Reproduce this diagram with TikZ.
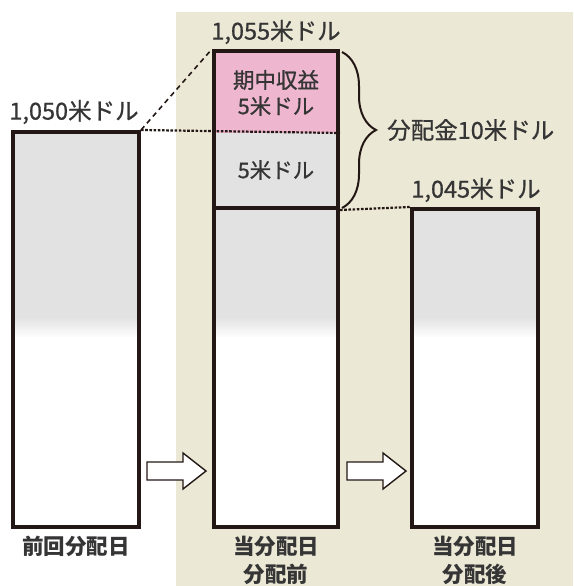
\documentclass[tikz,border=0pt]{standalone}
\usepackage{fontspec}
\setmainfont{Noto Sans CJK JP}
\newfontfamily\jpmed{Noto Sans CJK JP}[FakeBold=0.8]
\usetikzlibrary{decorations.pathreplacing}
\definecolor{beige}{HTML}{ECE8D6}
\definecolor{boxgray}{HTML}{E2E2E2}
\definecolor{pinkfill}{HTML}{EFB7CF}
\definecolor{frame}{HTML}{231815}
\definecolor{txt}{HTML}{353535}
\begin{document}
\begin{tikzpicture}[x=1pt,y=-1pt,
  barbox/.style={draw=frame, line width=4pt, inner sep=0pt, minimum width=125pt},
  lbl/.style={text=txt, font=\jpmed\fontsize{23.5}{26}\selectfont, inner sep=0pt},
  inlbl/.style={text=txt, font=\jpmed\fontsize{21.5}{24}\selectfont, inner sep=0pt},
  caption/.style={text=txt, font=\fontsize{21.5}{28}\selectfont\bfseries, inner sep=0pt, align=center},
  dotline/.style={draw=frame, line width=2.2pt, dash pattern=on 2.6pt off 1.6pt},
  dashline/.style={draw=frame, line width=1.6pt, dash pattern=on 5pt off 4pt},
  blockarrow/.style={draw=frame, fill=white, line width=1.4pt, line join=miter}]
\useasboundingbox (0,0) rectangle (573,586);
\fill[beige] (176,12) rectangle (573,586);
% fills
\fill[boxgray] (13,132) rectangle (139,318);
\shade[top color=boxgray,bottom color=white] (13,317) rectangle (139,338);
\fill[white] (13,337) rectangle (139,527);
\fill[pinkfill] (214,51) rectangle (338,133);
\fill[boxgray] (214,133) rectangle (338,318);
\shade[top color=boxgray,bottom color=white] (214,317) rectangle (338,338);
\fill[white] (214,337) rectangle (338,527);
\fill[boxgray] (412,209) rectangle (538,318);
\shade[top color=boxgray,bottom color=white] (412,317) rectangle (538,338);
\fill[white] (412,337) rectangle (538,527);
% outlines
\node[barbox, minimum width=126pt, minimum height=395pt] (prev) at (76,329.5) {};
\node[barbox, minimum width=124pt, minimum height=157pt] (top) at (276,129.5) {};
\node[barbox, minimum width=124pt, minimum height=319pt] (before) at (276,367.5) {};
\node[barbox, minimum width=126pt, minimum height=318pt] (after) at (475,368) {};
% guide lines
\coordinate (midsplit) at (top.east |- 0,133);
\draw[dashline] (prev.north east) -- (top.north west);
\draw[dotline] (prev.north east) -- (midsplit);
\draw[dotline] (top.south east) -- (after.north west);
% brace
\coordinate (brtop) at (342,52);
\coordinate (brbot) at (342,208);
\draw[frame, line width=2pt, decorate, decoration={brace, amplitude=34pt, aspect=0.5}] (brtop) -- (brbot);
% block arrows
\draw[blockarrow] (147,462) -- (183,462) -- (183,453) -- (206,471) -- (183,489) -- (183,480) -- (147,480) -- cycle;
\draw[blockarrow] (347,462) -- (383,462) -- (383,453) -- (406,471) -- (383,489) -- (383,480) -- (347,480) -- cycle;
% labels
\node[lbl] (l1050) at (74,112) {1,050米ドル};
\node[lbl] (l1055) at (276,32) {1,055米ドル};
\node[lbl] (l1045) at (476,190) {1,045米ドル};
\node[inlbl] (lgain) at (276,80) {期中収益};
\node[inlbl] (lgain5) at (276,106) {5米ドル};
\node[inlbl] (lbase5) at (276,170) {5米ドル};
\node[lbl, anchor=west] (ldist) at (387,130) {分配金10米ドル};
\node[caption] (cprev) at (76,546) {前回分配日};
\node[caption] (cbefore) at (276,560) {当分配日\\分配前};
\node[caption] (cafter) at (475,560) {当分配日\\分配後};
\end{tikzpicture}
\end{document}
